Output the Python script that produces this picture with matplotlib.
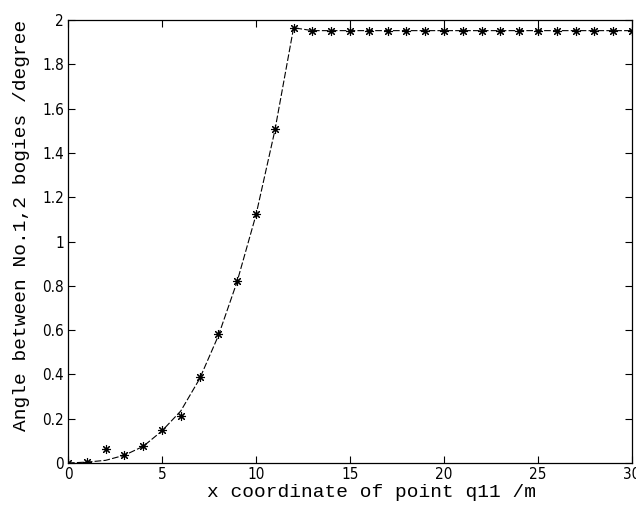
import matplotlib
matplotlib.use("Agg")
import matplotlib.pyplot as plt
from matplotlib.ticker import FixedLocator

# Data
x_points = list(range(0, 31))
marker_vals = [0.0, 0.003, 0.063, 0.036, 0.077, 0.149, 0.214, 0.39, 0.581, 0.822,
               1.123, 1.506, 1.962] + [1.952] * 18
line_vals = [0.0, 0.004, 0.012, 0.035, 0.075, 0.145, 0.235, 0.38, 0.575, 0.82,
             1.12, 1.5, 1.965] + [1.952] * 18

x_ticks = [0, 5, 10, 15, 20, 25, 30]
y_ticks = [0, 0.2, 0.4, 0.6, 0.8, 1.0, 1.2, 1.4, 1.6, 1.8, 2.0]
y_ticklabels = ["0", "0.2", "0.4", "0.6", "0.8", "1", "1.2", "1.4", "1.6", "1.8", "2"]
x_label = "x coordinate of point q11 /m"
y_label = "Angle between No.1,2 bogies /degree"

fig = plt.figure(figsize=(6.36, 5.16), dpi=100)
ax = fig.add_axes([68/636, 53/516, 564/636, 443/516])

ax.plot(x_points, line_vals, color="black", linewidth=0.8, dashes=(6, 2))
ax.plot(x_points, marker_vals, linestyle="none", marker=(8, 2, 0), markersize=6.5,
        markeredgecolor="black", markeredgewidth=0.8, color="black")

ax.set_xlim(0, 30)
ax.set_ylim(0, 2)
ax.xaxis.set_major_locator(FixedLocator(x_ticks))
ax.yaxis.set_major_locator(FixedLocator(y_ticks))
ax.set_xticklabels([str(t) for t in x_ticks])
ax.set_yticklabels(y_ticklabels)

ax.tick_params(direction="in", top=True, right=True, length=5, width=0.8,
               labelsize=11, pad=3)
for lbl in ax.get_xticklabels() + ax.get_yticklabels():
    lbl.set_family("DejaVu Sans")
    lbl.set_stretch("condensed")
for s in ax.spines.values():
    s.set_linewidth(0.9)

ax.set_xlabel(x_label, family="Liberation Mono", fontsize=14)
ax.set_ylabel(y_label, family="Liberation Mono", fontsize=14)
ax.xaxis.set_label_coords(0.539, -0.047)
ax.yaxis.set_label_coords(-0.067, 0.537)

fig.savefig("out.png", dpi=100)
